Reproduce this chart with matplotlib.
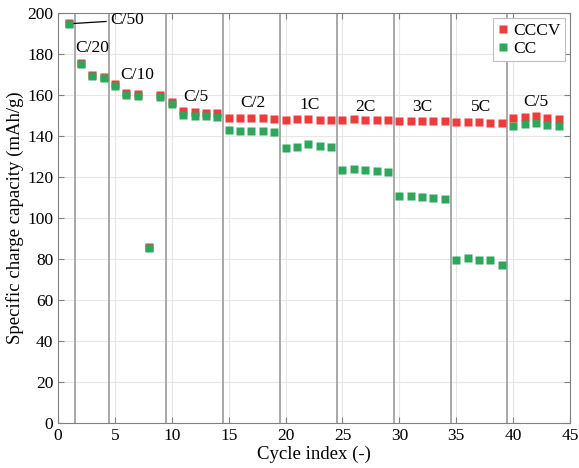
import matplotlib.pyplot as plt
import numpy as np

plt.rcParams['font.family'] = ['Liberation Serif', 'DejaVu Serif']

# cycle numbers and capacities (mAh/g)
cycles = np.arange(1, 45)
cccv = [195.3, 175.8, 169.8, 169.0, 165.2, 160.8, 160.4, 86.0, 159.8, 156.8,
        152.0, 151.5, 151.4, 151.3,
        148.8, 148.8, 148.7, 148.6, 148.5,
        147.6, 148.1, 148.4, 148.0, 148.0,
        147.6, 148.1, 148.0, 147.8, 147.6,
        147.5, 147.5, 147.5, 147.5, 147.4,
        146.9, 146.9, 146.6, 146.5, 146.5,
        148.6, 149.4, 149.8, 148.9, 148.5]
cc = [194.5, 175.1, 169.1, 168.4, 164.4, 160.0, 159.5, 85.2, 159.0, 155.5,
      150.4, 149.8, 149.6, 149.4,
      142.8, 142.6, 142.3, 142.2, 141.8,
      134.0, 134.8, 136.3, 135.1, 134.8,
      123.2, 123.9, 123.4, 122.7, 122.2,
      110.9, 110.6, 110.4, 109.9, 109.1,
      79.3, 80.6, 79.7, 79.5, 77.1,
      145.0, 145.9, 146.2, 145.4, 144.8]

# C-rate step boundaries and labels
steps = [1.5, 4.5, 9.5, 14.5, 19.5, 24.5, 29.5, 34.5, 39.5]
rate_labels = ['C/20', 'C/10', 'C/5', 'C/2', '1C', '2C', '3C', '5C', 'C/5']
label_x = [1.5, 5.5, 11.0, 17.1, 22.1, 27.0, 32.0, 37.2, 42.0]
label_y = [183, 170, 159, 156, 155, 154.3, 154.3, 154.3, 156.8]
label_ha = ['left', 'left', 'left', 'center', 'center', 'center', 'center', 'center', 'center']

fig = plt.figure(figsize=(5.79, 4.68), dpi=100)
ax = fig.add_axes([0.1002, 0.0962, 0.8843, 0.876])

for s in steps:
    ax.axvline(s, color='#a8a8a8', lw=1.4, zorder=1)

ax.plot(cycles, cccv, 's', color='#ee3b3b', ms=6, mec='none', label='CCCV', zorder=3)
ax.plot(cycles, cc, 's', color='#2ea65c', ms=6, mec='none', label='CC', zorder=4)

for t, x, y, ha in zip(rate_labels, label_x, label_y, label_ha):
    ax.text(x, y, t, ha=ha, va='center', fontsize=12.5)

ax.annotate('C/50', xy=(1.1, 194.8), xytext=(4.6, 196.5), fontsize=12.5,
            va='center', arrowprops=dict(arrowstyle='-', color='k', lw=0.9,
                                         shrinkA=1, shrinkB=2))

ax.set_xlim(0, 45)
ax.set_ylim(0, 200)
ax.set_xticks(np.arange(0, 46, 5))
ax.set_yticks(np.arange(0, 201, 20))
ax.grid(True, color='#e6e6e6', lw=0.8, zorder=0)
ax.set_axisbelow(True)
ax.tick_params(direction='in', top=True, right=True, labelsize=12.5,
               color='#808080', length=4)
for sp in ax.spines.values():
    sp.set_color('#808080')

ax.set_xlabel('Cycle index (-)', fontsize=13.5, labelpad=1)
ax.set_ylabel('Specific charge capacity (mAh/g)', fontsize=13.5, labelpad=2)

leg = ax.legend(loc='upper right', fontsize=12.5, handlelength=0.6,
                handletextpad=0.3, borderpad=0.25, labelspacing=0.1,
                fancybox=False, framealpha=1, borderaxespad=0.3)
leg.get_frame().set_edgecolor('#bfbfbf')
leg.get_frame().set_linewidth(0.8)

fig.savefig('out.png', dpi=100)
